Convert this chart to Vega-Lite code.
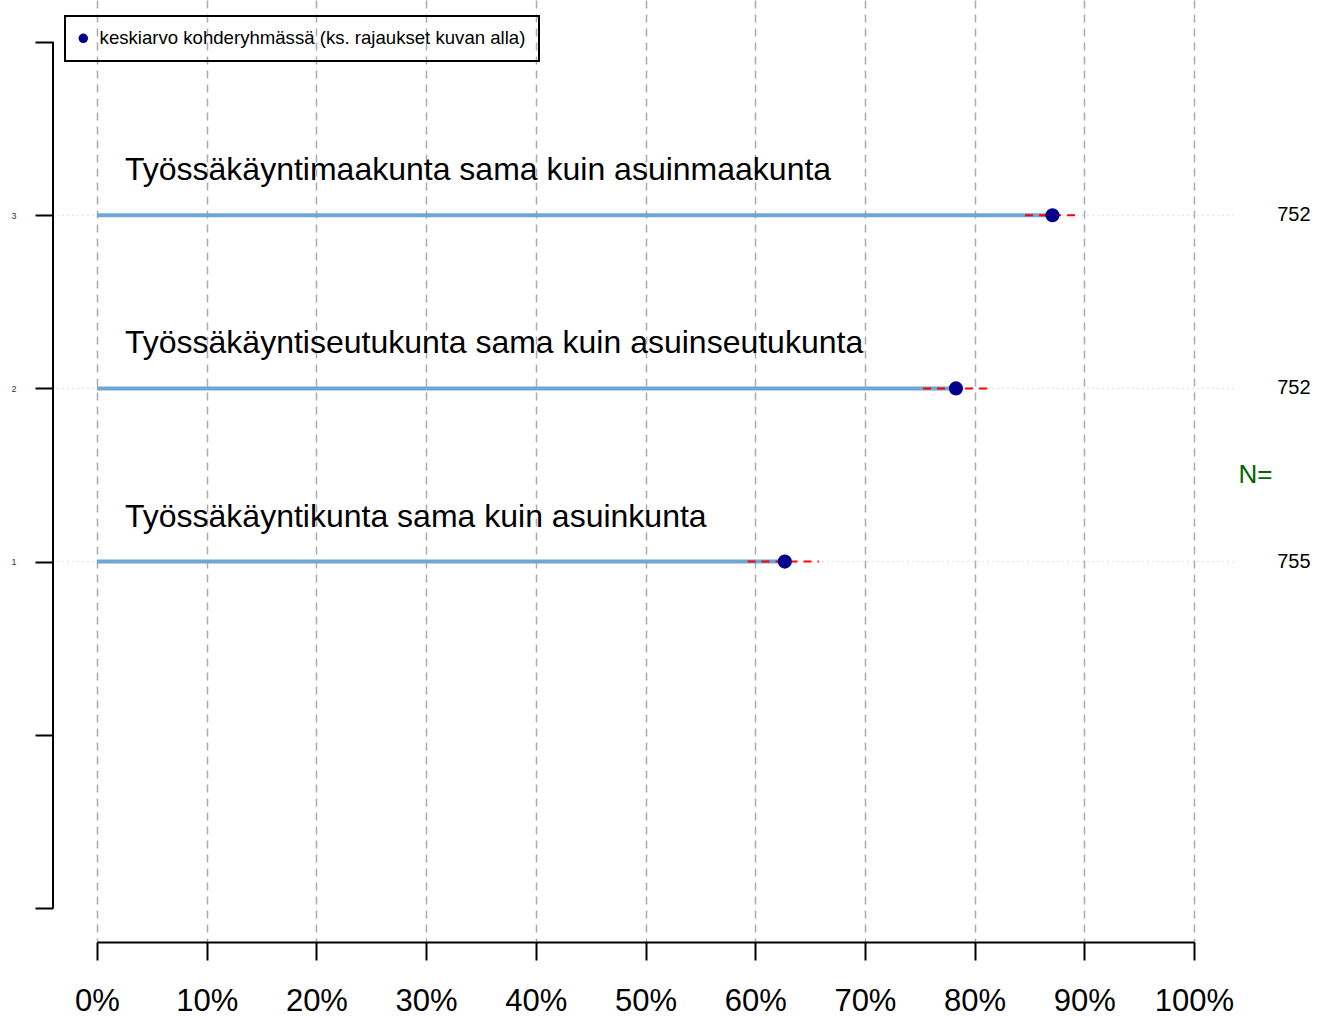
{
  "$schema": "https://vega.github.io/schema/vega-lite/v6.json",
  "width": 1097,
  "height": 942,
  "autosize": {"type": "none"},
  "padding": {"left": 97, "top": 0, "right": 136, "bottom": 76},
  "background": "white",
  "config": {
    "view": {"stroke": null},
    "font": "Liberation Sans",
    "legend": {"strokeWidth": 2}
  },
  "data": {
    "values": [
      {"label": "Työssäkäyntimaakunta sama kuin asuinmaakunta", "row": 3, "mean": 87.1, "lo": 84.6, "hi": 89.6, "n": 752, "series": "keskiarvo kohderyhmässä (ks. rajaukset kuvan alla)"},
      {"label": "Työssäkäyntiseutukunta sama kuin asuinseutukunta", "row": 2, "mean": 78.3, "lo": 75.3, "hi": 81.3, "n": 752, "series": "keskiarvo kohderyhmässä (ks. rajaukset kuvan alla)"},
      {"label": "Työssäkäyntikunta sama kuin asuinkunta", "row": 1, "mean": 62.7, "lo": 59.3, "hi": 65.8, "n": 755, "series": "keskiarvo kohderyhmässä (ks. rajaukset kuvan alla)"}
    ]
  },
  "layer": [
    {
      "mark": {"type": "rule", "stroke": "#c0c0c0", "strokeWidth": 1, "strokeDash": [1, 4]},
      "encoding": {
        "x": {"datum": -3.6, "type": "quantitative"},
        "x2": {"datum": 103.9},
        "y": {"field": "row", "type": "quantitative"}
      }
    },
    {
      "data": {"values": [{"axis": "y"}]},
      "mark": {"type": "rule", "stroke": "black", "strokeWidth": 2},
      "encoding": {
        "x": {"datum": -4.01, "type": "quantitative"},
        "y": {"datum": -1, "type": "quantitative"},
        "y2": {"datum": 4}
      }
    },
    {
      "mark": {"type": "rule", "stroke": "#6fa6d2", "strokeWidth": 4},
      "encoding": {
        "x": {"field": "mean", "type": "quantitative"},
        "x2": {"datum": 0},
        "y": {"field": "row", "type": "quantitative"}
      }
    },
    {
      "mark": {"type": "rule", "stroke": "#ff0000", "strokeWidth": 2, "strokeDash": [8, 6]},
      "encoding": {
        "x": {"field": "lo", "type": "quantitative"},
        "x2": {"field": "hi"},
        "y": {"field": "row", "type": "quantitative"}
      }
    },
    {
      "mark": {"type": "point", "shape": "circle", "filled": true, "size": 200, "opacity": 1},
      "encoding": {
        "x": {"field": "mean", "type": "quantitative", "scale": {"domain": [0, 100], "nice": false, "zero": false},
              "axis": {"title": null, "values": [0,10,20,30,40,50,60,70,80,90,100], "labelExpr": "datum.value + '%'",
                       "labelFontSize": 31, "labelColor": "black", "labelPadding": 26, "labelFont": "Liberation Sans",
                       "labelOverlap": false, "labelFlush": false, "labelBound": false,
                       "domainColor": "black", "domainWidth": 2, "tickColor": "black", "tickWidth": 2, "tickSize": 18,
                       "grid": true, "gridColor": "#ababab", "gridWidth": 1.5, "gridDash": [8, 6]}},
        "y": {"field": "row", "type": "quantitative", "scale": {"domain": [-1.1963, 4.2425], "nice": false, "zero": false},
              "axis": {"title": null, "values": [-1,0,1,2,3,4], "labelExpr": "datum.value >= 1 && datum.value <= 3 ? datum.value : ''",
                       "offset": 44, "domain": false, "grid": false, "tickColor": "black", "tickWidth": 2, "tickSize": 18,
                       "labelFontSize": 9, "labelColor": "#333333", "labelPadding": 19, "labelFont": "Liberation Sans"}},
        "color": {"field": "series", "type": "nominal",
                  "scale": {"range": ["#00008b"]},
                  "legend": {"title": null, "orient": "none", "legendX": -32, "legendY": 16,
                             "padding": 13, "strokeColor": "black", "symbolSize": 90, "symbolType": "circle",
                             "symbolOffset": -4,
                             "labelFontSize": 18.6, "labelFont": "Liberation Sans", "labelColor": "black", "labelOffset": 7,
                             "labelLimit": 600,
                             "encode": {"legend": {"update": {"strokeWidth": {"value": 2}, "stroke": {"value": "black"}}}}}}
      }
    },
    {
      "mark": {"type": "text", "align": "left", "baseline": "alphabetic", "fontSize": 32, "color": "black", "yOffset": -35},
      "encoding": {
        "x": {"datum": 2.55, "type": "quantitative"},
        "y": {"field": "row", "type": "quantitative"},
        "text": {"field": "label"}
      }
    },
    {
      "mark": {"type": "text", "align": "center", "baseline": "middle", "fontSize": 20, "color": "black"},
      "encoding": {
        "x": {"datum": 109.1, "type": "quantitative"},
        "y": {"field": "row", "type": "quantitative"},
        "text": {"field": "n"}
      }
    },
    {
      "data": {"values": [{"t": "N="}]},
      "mark": {"type": "text", "align": "center", "baseline": "middle", "fontSize": 26, "color": "#006400"},
      "encoding": {
        "x": {"datum": 105.6, "type": "quantitative"},
        "y": {"datum": 1.5, "type": "quantitative"},
        "text": {"field": "t"}
      }
    }
  ]
}
